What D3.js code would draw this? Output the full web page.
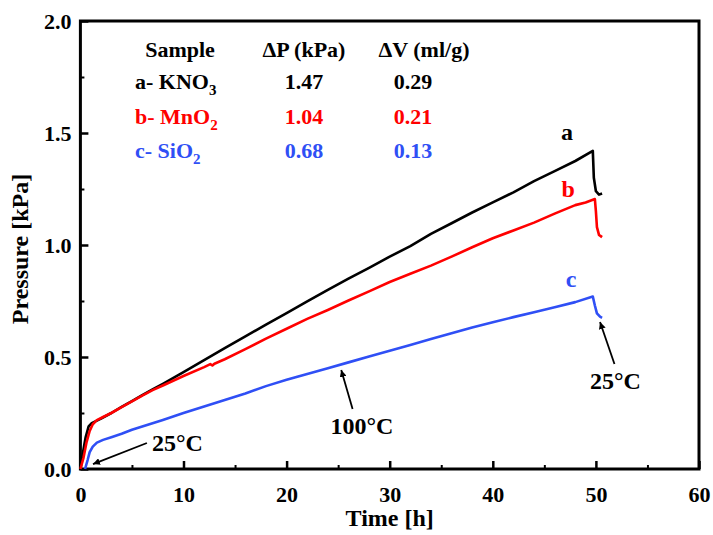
<!DOCTYPE html>
<meta charset="utf-8">
<style>
body { margin: 0; background: #fff; }
svg text { font-family: "Liberation Serif", "Times New Roman", Times, serif !important; font-weight: bold; }
.axis path, .axis line { stroke: #000; }
.axis text { font-size: 22px; fill: #000; }
</style>
<svg width="713" height="535" font-family="Liberation Serif"></svg>
<script src="https://d3js.org/d3.v7.min.js"></script>
<script>

// time [h] and pressure [kPa]
var timeA = [0, 0.2, 0.5, 0.8, 1.1, 2, 3, 4, 5, 6, 7, 8, 10, 12, 14, 16, 18, 20, 22, 24, 26, 28, 30, 32, 34, 36, 38, 40, 42, 44, 46, 48, 49.7, 49.8, 50.0, 50.3, 50.6];
var presA = [0, 0.06, 0.14, 0.19, 0.205, 0.225, 0.25, 0.277, 0.303, 0.33, 0.355, 0.38, 0.432, 0.486, 0.54, 0.592, 0.645, 0.696, 0.748, 0.8, 0.85, 0.898, 0.948, 0.995, 1.05, 1.097, 1.145, 1.19, 1.235, 1.285, 1.33, 1.375, 1.42, 1.3, 1.24, 1.225, 1.23];

var timeB = [0, 0.3, 0.6, 0.9, 1.2, 1.6, 2.2, 3, 4, 5, 6, 7, 8, 10, 12, 12.6, 12.8, 13, 14, 16, 18, 20, 22, 24, 26, 28, 30, 32, 34, 36, 38, 40, 42, 44, 46, 48, 49, 49.9, 50.0, 50.1, 50.3, 50.6];
var presB = [0, 0.05, 0.12, 0.17, 0.2, 0.218, 0.232, 0.25, 0.276, 0.302, 0.328, 0.352, 0.373, 0.415, 0.455, 0.468, 0.462, 0.47, 0.49, 0.535, 0.582, 0.626, 0.67, 0.71, 0.752, 0.793, 0.835, 0.872, 0.908, 0.948, 0.99, 1.03, 1.065, 1.1, 1.14, 1.178, 1.19, 1.205, 1.15, 1.08, 1.045, 1.035];

var timeC = [0.45, 0.7, 0.9, 1.2, 1.6, 2.2, 3, 4, 5, 6, 8, 10, 12, 14, 16, 18, 20, 22, 24, 26, 28, 30, 32, 34, 36, 38, 40, 42, 44, 46, 48, 49.7, 49.9, 50.1, 50.4, 50.6];
var presC = [0, 0.04, 0.075, 0.1, 0.118, 0.13, 0.142, 0.157, 0.175, 0.19, 0.219, 0.25, 0.279, 0.308, 0.337, 0.37, 0.398, 0.424, 0.45, 0.476, 0.502, 0.528, 0.554, 0.58, 0.606, 0.632, 0.655, 0.678, 0.7, 0.722, 0.745, 0.77, 0.73, 0.695, 0.68, 0.675];

var xTicks = [0, 10, 20, 30, 40, 50, 60];
var xMinor = [5, 15, 25, 35, 45, 55];
var yTicks = [0, 0.5, 1.0, 1.5, 2.0];
var yMinor = [0.25, 0.75, 1.25, 1.75];

var seriesNames = ["a", "b", "c"];
var seriesColors = ["#000000", "#ff0000", "#2f4ff5"];
var labelPos = [[47.2, 1.47], [47.3, 1.214], [47.6, 0.812]];

var tableHead = ["Sample", "\u0394P (kPa)", "\u0394V (ml/g)"];
var tableSample = [["a- KNO", "3"], ["b- MnO", "2"], ["c- SiO", "2"]];
var tableDP = ["1.47", "1.04", "0.68"];
var tableDV = ["0.29", "0.21", "0.13"];

// annotations: text position, arrow start, arrow end (data units)
var notes = [
  { text: "25\u00B0C", at: [6.94, 0.08], anchor: "start", from: [6.45, 0.116], to: [1.22, 0.022] },
  { text: "100\u00B0C", at: [27.3, 0.156], anchor: "middle", from: [26.4, 0.268], to: [25.3, 0.442] },
  { text: "25\u00B0C", at: [51.9, 0.357], anchor: "middle", from: [51.8, 0.469], to: [50.4, 0.656] }
];

var svg = d3.select("svg");

var x = d3.scaleLinear().domain([0, 60]).range([80.4, 699]);
var y = d3.scaleLinear().domain([0, 2]).range([469, 21]);

svg.append("defs").append("marker")
    .attr("id", "arrow")
    .attr("viewBox", "0 0 10 10")
    .attr("refX", 10).attr("refY", 5)
    .attr("markerWidth", 7).attr("markerHeight", 7)
    .attr("markerUnits", "userSpaceOnUse")
    .attr("orient", "auto")
  .append("path")
    .attr("d", "M0,0L10,5L0,10z")
    .attr("fill", "#000");

function clean(g, w) {
  g.attr("font-family", null).attr("font-size", null);
  g.select(".domain").remove();
  g.selectAll("line").attr("stroke-width", w);
}

// minor ticks
svg.append("g")
    .attr("class", "axis")
    .attr("transform", "translate(0," + y(0) + ")")
    .call(d3.axisBottom(x).tickValues(xMinor).tickSize(-4).tickFormat(""))
    .call(clean, 2);

svg.append("g")
    .attr("class", "axis")
    .attr("transform", "translate(" + x(0) + ",0)")
    .call(d3.axisLeft(y).tickValues(yMinor).tickSize(-4).tickFormat(""))
    .call(clean, 2);

// major ticks
svg.append("g")
    .attr("class", "axis")
    .attr("transform", "translate(0," + y(0) + ")")
    .call(d3.axisBottom(x).tickValues(xTicks).tickSizeInner(-8).tickSizeOuter(0).tickPadding(17).tickFormat(d3.format("d")))
    .call(clean, 2.5);

svg.append("g")
    .attr("class", "axis")
    .attr("transform", "translate(" + x(0) + ",0)")
    .call(d3.axisLeft(y).tickValues(yTicks).tickSizeInner(-8).tickSizeOuter(0).tickPadding(9).tickFormat(d3.format(".1f")))
    .call(clean, 2.5);

// frame
svg.append("rect")
    .attr("x", x(0)).attr("y", y(2))
    .attr("width", x(60) - x(0)).attr("height", y(0) - y(2))
    .attr("fill", "none").attr("stroke", "#000").attr("stroke-width", 3);

// curves
var line = d3.line().x(function(d) { return x(d[0]); }).y(function(d) { return y(d[1]); });
var series = [d3.zip(timeA, presA), d3.zip(timeB, presB), d3.zip(timeC, presC)];

svg.append("g").selectAll("path")
    .data(series)
  .enter().append("path")
    .attr("d", line)
    .attr("fill", "none")
    .attr("stroke", function(d, i) { return seriesColors[i]; })
    .attr("stroke-width", 2.6)
    .attr("stroke-linejoin", "round");

svg.append("g").selectAll("text")
    .data(seriesNames)
  .enter().append("text")
    .attr("x", function(d, i) { return x(labelPos[i][0]); })
    .attr("y", function(d, i) { return y(labelPos[i][1]); })
    .attr("text-anchor", "middle")
    .attr("font-size", 24)
    .attr("fill", function(d, i) { return seriesColors[i]; })
    .text(function(d) { return d; });

// annotations
notes.forEach(function(n) {
  svg.append("line")
      .attr("x1", x(n.from[0])).attr("y1", y(n.from[1]))
      .attr("x2", x(n.to[0])).attr("y2", y(n.to[1]))
      .attr("stroke", "#000").attr("stroke-width", 1.8)
      .attr("marker-end", "url(#arrow)");
  svg.append("text")
      .attr("x", x(n.at[0])).attr("y", y(n.at[1]))
      .attr("text-anchor", n.anchor)
      .attr("font-size", 24)
      .text(n.text);
});

// table legend
var tbl = svg.append("g").attr("font-size", 22);
var rowY = [57, 89, 124, 158];

tbl.append("text").attr("x", 180).attr("y", rowY[0]).attr("text-anchor", "middle").text(tableHead[0]);
tbl.append("text").attr("x", 304).attr("y", rowY[0]).attr("text-anchor", "middle").text(tableHead[1]);
tbl.append("text").attr("x", 424).attr("y", rowY[0]).attr("text-anchor", "middle").text(tableHead[2]);

tableSample.forEach(function(s, i) {
  var t = tbl.append("text").attr("x", 135).attr("y", rowY[i + 1]).attr("fill", seriesColors[i]);
  t.append("tspan").text(s[0]);
  t.append("tspan").attr("font-size", 15).attr("dy", 6).text(s[1]);
  tbl.append("text").attr("x", 304).attr("y", rowY[i + 1]).attr("text-anchor", "middle")
      .attr("fill", seriesColors[i]).text(tableDP[i]);
  tbl.append("text").attr("x", 413).attr("y", rowY[i + 1]).attr("text-anchor", "middle")
      .attr("fill", seriesColors[i]).text(tableDV[i]);
});

// axis titles
svg.append("text")
    .attr("x", (x(0) + x(60)) / 2).attr("y", 526)
    .attr("text-anchor", "middle")
    .attr("font-size", 24)
    .text("Time [h]");

svg.append("text")
    .attr("transform", "translate(28,249) rotate(-90)")
    .attr("text-anchor", "middle")
    .attr("font-size", 24)
    .text("Pressure [kPa]");

</script>
